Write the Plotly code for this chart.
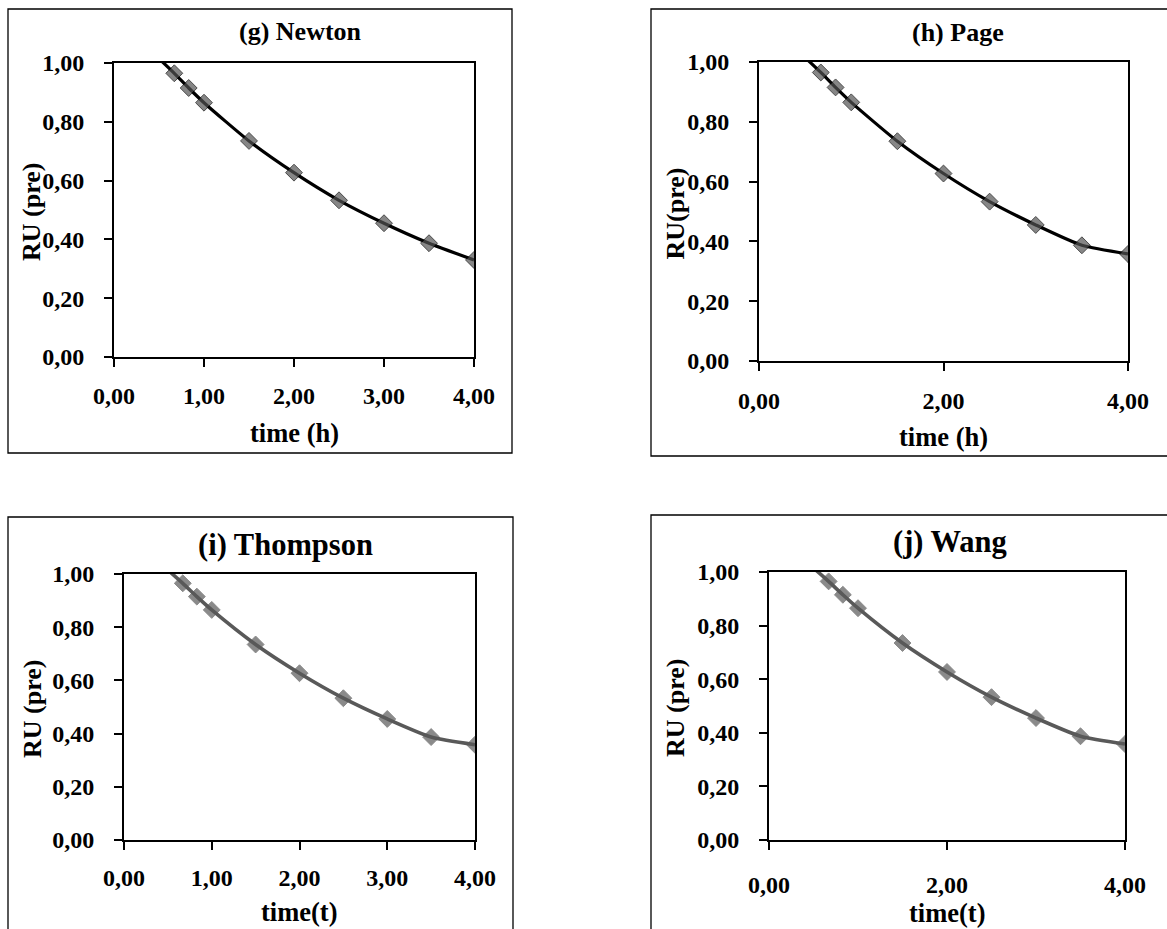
import plotly.graph_objects as go

# Drying time (h) and predicted moisture ratio for each thin-layer model
time_line = [0.50, 0.67, 0.83, 1.00, 1.50, 2.00, 2.50, 3.00, 3.50, 4.00]
ru_newton = [1.015, 0.965, 0.915, 0.865, 0.735, 0.627, 0.533, 0.455, 0.387, 0.330]
ru_page = [1.015, 0.965, 0.915, 0.865, 0.735, 0.627, 0.533, 0.455, 0.387, 0.358]
ru_thompson = [1.015, 0.965, 0.915, 0.865, 0.735, 0.627, 0.533, 0.455, 0.387, 0.358]
ru_wang = [1.015, 0.965, 0.915, 0.865, 0.735, 0.627, 0.533, 0.455, 0.387, 0.358]

# the first point only anchors the curve; it carries no marker
marker_sizes = [0, 13, 13, 13, 13, 13, 13, 13, 13, 13]

titles = ["(g) Newton", "(h) Page", "(i) Thompson", "(j) Wang"]
x_titles = ["time (h)", "time (h)", "time(t)", "time(t)"]
y_titles = ["RU (pre)", "RU(pre)", "RU (pre)", "RU (pre)"]
x_ticks = [[0, 1, 2, 3, 4], [0, 2, 4], [0, 1, 2, 3, 4], [0, 2, 4]]
y_ticks = [0.0, 0.2, 0.4, 0.6, 0.8, 1.0]
series = [ru_newton, ru_page, ru_thompson, ru_wang]

W, H = 1167, 929
FONT = "Liberation Serif"

# plot areas in pixels: left, right, top, bottom
areas = [(114, 474, 63, 357), (759, 1128, 62, 361),
         (124, 475, 574, 840), (769, 1125, 572, 840)]
# outer frames in pixels
frames = [(8, 512, 9, 453), (651, 1175, 9, 456),
          (8, 513, 517, 940), (651, 1175, 515, 940)]
title_pos = [(300, 32, 26), (958, 33, 26), (285, 545, 30.5), (950, 542, 30.5)]
xtitle_y = [433, 437, 912, 913]
ytitle_x = [32, 675, 32, 675]
x_standoff = [8, 9, 7, 14]
y_standoff = [15, 15, 15, 15]
line_colors = ["black", "black", "#595959", "#595959"]
line_widths = [3.2, 3.2, 3.6, 3.6]
marker_colors = ["#535353", "#535353", "#595959", "#595959"]
marker_lines = ["black", "black", "#595959", "#595959"]


def px(x):
    return x / W


def py(y):
    return 1 - y / H


fig = go.Figure()
layout = {}
annotations = []
shapes = []

for i in range(4):
    n = "" if i == 0 else str(i + 1)
    left, right, top, bottom = areas[i]
    fig.add_trace(go.Scatter(
        x=time_line, y=series[i], mode="lines+markers",
        xaxis="x" + n, yaxis="y" + n,
        line=dict(color=line_colors[i], width=line_widths[i], shape="spline", smoothing=0.6),
        marker=dict(symbol="diamond", size=marker_sizes, color=marker_colors[i],
                    line=dict(color=marker_lines[i], width=1)),
        cliponaxis=True, showlegend=False,
    ))
    axis_common = dict(
        showline=True, mirror=True, linecolor="black", linewidth=2,
        ticks="outside", ticklen=8, tickwidth=2, tickcolor="black",
        showgrid=False, zeroline=False, automargin=False,
        tickfont=dict(family=FONT, size=24, color="black", weight="bold"),
        fixedrange=True,
    )
    layout["xaxis" + n] = dict(
        axis_common, domain=[px(left), px(right)], anchor="y" + n,
        range=[0, 4], tickvals=x_ticks[i],
        ticktext=[f"{v:.2f}".replace(".", ",") for v in x_ticks[i]],
        ticklabelstandoff=x_standoff[i],
    )
    layout["yaxis" + n] = dict(
        axis_common, domain=[py(bottom), py(top)], anchor="x" + n,
        range=[0, 1], tickvals=y_ticks,
        ticktext=[f"{v:.2f}".replace(".", ",") for v in y_ticks],
        ticklabelstandoff=y_standoff[i],
    )
    fl, fr, ft, fb = frames[i]
    shapes.append(dict(type="rect", xref="paper", yref="paper",
                       x0=px(fl), x1=px(fr), y0=py(fb), y1=py(ft),
                       line=dict(color="black", width=1.3), layer="below"))
    tx, ty, ts = title_pos[i]
    annotations.append(dict(text=titles[i], x=px(tx), y=py(ty), xref="paper", yref="paper",
                            showarrow=False, xanchor="center", yanchor="middle",
                            font=dict(family=FONT, size=ts, color="black", weight="bold")))
    annotations.append(dict(text=x_titles[i], x=px((left + right) / 2), y=py(xtitle_y[i]),
                            xref="paper", yref="paper", showarrow=False,
                            xanchor="center", yanchor="middle",
                            font=dict(family=FONT, size=26.5, color="black", weight="bold")))
    annotations.append(dict(text=y_titles[i], x=px(ytitle_x[i]), y=py((top + bottom) / 2 + 2),
                            xref="paper", yref="paper", showarrow=False, textangle=-90,
                            xanchor="center", yanchor="middle",
                            font=dict(family=FONT, size=26, color="black", weight="bold")))

fig.update_layout(
    width=W, height=H, margin=dict(l=0, r=0, t=0, b=0, autoexpand=False),
    paper_bgcolor="white", plot_bgcolor="white",
    annotations=annotations, shapes=shapes, **layout,
)

fig.write_html("out.html", config={"displayModeBar": False})
